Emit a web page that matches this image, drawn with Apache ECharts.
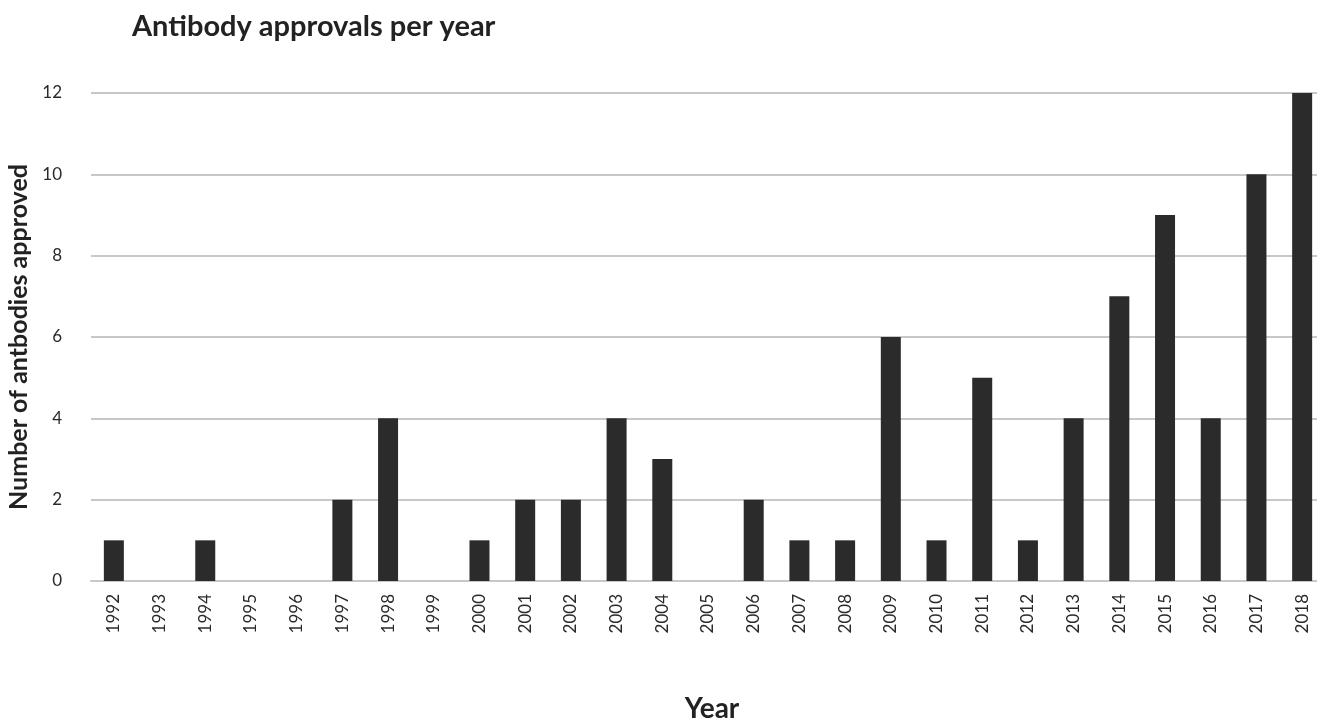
<!DOCTYPE html>
<html>
<head>
<meta charset="utf-8">
<script src="https://cdn.jsdelivr.net/npm/echarts@6/dist/echarts.min.js"></script>
<style>
  html, body { margin: 0; padding: 0; background: #fff; }
  #chart { width: 1317px; height: 718px; }
</style>
</head>
<body>
<div id="chart"></div>
<script>
// Monoclonal antibody approvals by year
const years = ['1992','1993','1994','1995','1996','1997','1998','1999','2000','2001','2002','2003','2004','2005','2006','2007','2008','2009','2010','2011','2012','2013','2014','2015','2016','2017','2018'];
const approvals = [1,0,1,0,0,2,4,0,1,2,2,4,3,0,2,1,1,6,1,5,1,4,7,9,4,10,12];
const yTicks = [0, 2, 4, 6, 8, 10, 12];

const FONT = 'Lato, "Open Sans", sans-serif';
const chart = echarts.init(document.getElementById('chart'));
chart.setOption({
  animation: false,
  backgroundColor: '#ffffff',
  title: {
    text: 'Antibody approvals per year',
    left: 127, top: 7,
    textStyle: { fontFamily: FONT, fontWeight: 'bold', fontSize: 29, color: '#222' }
  },
  grid: { left: 91, top: 93, width: 1234, height: 488, containLabel: false, outerBoundsMode: 'none' },
  xAxis: {
    type: 'category',
    data: years,
    name: 'Year',
    nameLocation: 'middle',
    nameGap: 114,
    nameTextStyle: { fontFamily: FONT, fontWeight: 'bold', fontSize: 28, color: '#222', padding: [0, 0, 0, 8] },
    axisLine: { show: true, lineStyle: { color: '#c8c8c8', width: 2 } },
    axisTick: { show: false },
    axisLabel: { rotate: 90, margin: 13, fontFamily: FONT, fontSize: 17, color: '#2a2a2a' }
  },
  yAxis: {
    type: 'value',
    min: yTicks[0], max: yTicks[yTicks.length - 1], interval: 2,
    name: 'Number of antbodies approved',
    nameLocation: 'middle',
    nameGap: 50,
    nameRotate: 90,
    nameTextStyle: { fontFamily: FONT, fontWeight: 'bold', fontSize: 25, color: '#222' },
    axisLine: { show: false },
    axisTick: { show: false },
    axisLabel: { margin: 29, fontFamily: FONT, fontSize: 17, color: '#2a2a2a' },
    splitLine: { lineStyle: { color: '#c8c8c8', width: 2 } }
  },
  series: [{
    type: 'bar',
    data: approvals,
    barWidth: 20,
    itemStyle: { color: '#2b2b2b' }
  }]
});
</script>
</body>
</html>
